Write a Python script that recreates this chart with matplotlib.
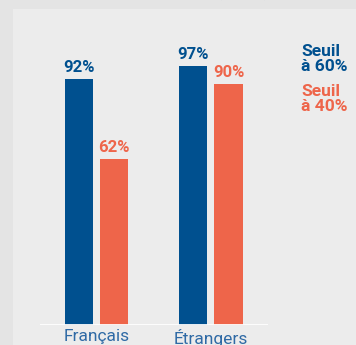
import matplotlib.pyplot as plt
from matplotlib.patches import Rectangle

categories = ['Français', 'Étrangers']
seuil_60 = [92, 97]
seuil_40 = [62, 90]
series_names = ['Seuil\nà 60%', 'Seuil\nà 40%']

blue = '#00508f'
orange = '#ee654a'
label_blue = '#2f6aa5'

plt.rcParams['font.family'] = ['Roboto', 'DejaVu Sans']

W, H = 356, 345
fig = plt.figure(figsize=(W / 100, H / 100), dpi=100)
fig.patch.set_facecolor('#e4e4e4')

# lighter inner panel
fig.patches.append(Rectangle((13 / W, 0), 1, (H - 9) / H, transform=fig.transFigure,
                             facecolor='#ececec', edgecolor='none', zorder=-5))

# title cut off at the top of the image
fig.text(165 / W, (H + 4) / H, 'Taux de pauvreté (en %)', ha='center', va='baseline',
         color=blue, fontsize=14, fontweight='bold')

base_px = 325
scale = 2.674  # px per percent
ax = fig.add_axes([40 / W, (H - base_px) / H, 228 / W, 100 * scale / H])
ax.set_facecolor('none')
ax.set_zorder(2)
ax.set_ylim(0, 100)
ax.set_xlim(-0.493, 1.498)

x = list(range(len(categories)))
off = 0.153
bw = 0.245
ax.bar([i - off for i in x], seuil_60, width=bw, color=blue, zorder=2)
ax.bar([i + off for i in x], seuil_40, width=bw, color=orange, zorder=2)

for i in x:
    ax.text(i - off, seuil_60[i] + 1.5, f'{seuil_60[i]}%', ha='center', va='bottom',
            color=blue, fontsize=12, fontweight='bold')
    ax.text(i + off, seuil_40[i] + 1.5, f'{seuil_40[i]}%', ha='center', va='bottom',
            color=orange, fontsize=12, fontweight='bold')

ax.axhline(0, color='white', lw=2, zorder=3)
for s in ax.spines.values():
    s.set_visible(False)
ax.set_yticks([])
ax.set_xticks(x)
ax.set_xticklabels(categories, color=label_blue, fontsize=12.5)
ax.tick_params(axis='x', length=0, pad=3)

fig.text(301 / W, (H - 44) / H, series_names[0], ha='left', va='top', color=blue,
         fontsize=12.5, fontweight='bold', linespacing=1.0)
fig.text(301 / W, (H - 84) / H, series_names[1], ha='left', va='top', color=orange,
         fontsize=12.5, fontweight='bold', linespacing=1.0)

fig.savefig('out.png', dpi=100, facecolor=fig.get_facecolor())
